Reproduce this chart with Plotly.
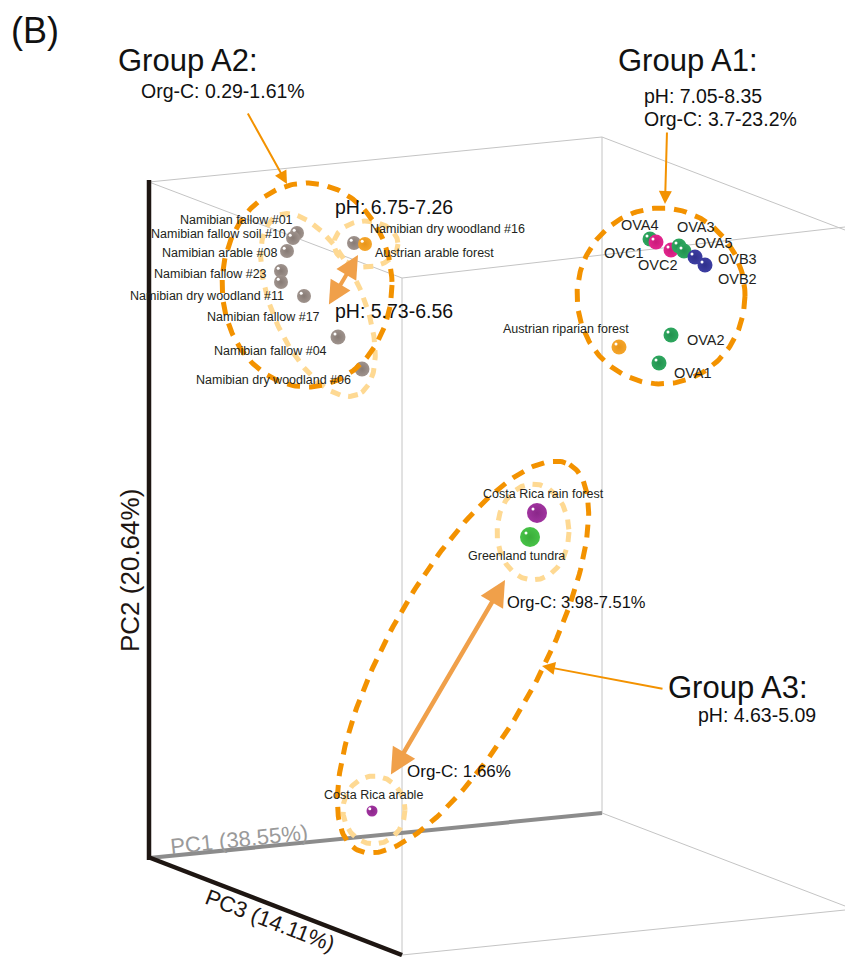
import numpy as np
import plotly.graph_objects as go

W, H = 845, 957

# ---------------- data: projected PCA scores (plot units) ----------------
sample_names = [
    "Namibian fallow #01", "Namibian fallow soil #10", "Namibian arable #08",
    "Namibian fallow #23", "Namibian dry woodland #11", "Namibian fallow #17",
    "Namibian fallow #04", "Namibian dry woodland #06", "Namibian dry woodland #16",
    "Austrian arable forest",
    "OVA4", "OVC1", "OVC2", "OVA3", "OVA5", "OVB3", "OVB2", "OVA2", "OVA1",
    "Austrian riparian forest",
    "Costa Rica rain forest", "Greenland tundra", "Costa Rica arable",
]
score_x = [297, 293, 287, 281, 281, 304, 338, 362, 354, 365,
           650, 656, 671, 679, 684, 695, 705, 671, 659, 619,
           537, 530, 372]
score_y = [233, 238, 251, 271, 282, 296, 337, 369, 243, 244,
           239, 242, 250, 246, 251, 257, 265, 335, 363, 347,
           513, 537, 811]
sample_kind = (["Namibia"] * 9 + ["Austria"] +
               ["OVA", "OVC", "OVC", "OVA", "OVA", "OVB", "OVB", "OVA", "OVA"] +
               ["Austria", "CostaRica", "Greenland", "CostaRica"])
# apparent sphere size (depth cue of the 3-D projection)
sphere_size = [14, 14, 14, 14, 14, 14, 15, 15, 14, 14,
               15, 15, 15, 15, 15, 15, 15, 15, 15, 15,
               20, 20, 11]

group_titles = ["Group A2:", "Group A1:", "Group A3:"]
group_notes = [["Org-C: 0.29-1.61%"], ["pH: 7.05-8.35", "Org-C: 3.7-23.2%"], ["pH: 4.63-5.09"]]
subgroup_notes = ["pH: 6.75-7.26", "pH: 5.73-6.56", "Org-C: 3.98-7.51%", "Org-C: 1.66%"]
axis_titles = ["PC1 (38.55%)", "PC2 (20.64%)", "PC3 (14.11%)"]

# ---------------- styles ----------------
kind_color = {"Namibia": "#9f938d", "Austria": "#f5a52a", "OVA": "#2ea75f",
              "OVC": "#e3268e", "OVB": "#3d3ea2", "CostaRica": "#a0339f",
              "Greenland": "#47c247"}
kind_edge = {"Namibia": "#877b75", "Austria": "#e8951a", "OVA": "#23914f",
             "OVC": "#c91b7a", "OVB": "#30318c", "CostaRica": "#8a2789",
             "Greenland": "#3aad3a"}
DARK = "#f39200"
LIGHT = "#fed993"
ARROW = "#f0a04a"
FONT = "Liberation Sans, Arial, sans-serif"

fig = go.Figure()


def ellipse(cx, cy, a, b, ang, color, dash, width=5):
    t = np.linspace(0, 2 * np.pi, 240)
    A = np.deg2rad(ang)
    x = cx + a * np.cos(t) * np.cos(A) - b * np.sin(t) * np.sin(A)
    y = cy + a * np.cos(t) * np.sin(A) + b * np.sin(t) * np.cos(A)
    fig.add_trace(go.Scatter(x=x, y=y, mode="lines", hoverinfo="skip",
                             line=dict(color=color, width=width, dash=dash)))


# ---- box (axes of the 3-D plot) ----
thin = dict(color="#c4c4c4", width=1)
box_edges = [
    ((149, 182), (602, 137)), ((149, 182), (402, 278)), ((402, 278), (845, 227)),
    ((602, 137), (845, 230)), ((602, 137), (602, 813)), ((402, 278), (402, 955)),
    ((602, 813), (845, 906)), ((402, 955), (845, 910)),
]
shapes = []
for (x0, y0), (x1, y1) in box_edges:
    shapes.append(dict(type="line", x0=x0, y0=y0, x1=x1, y1=y1, line=thin, layer="below"))
shapes.append(dict(type="line", x0=149, y0=858, x1=602, y1=813,
                   line=dict(color="#8c8c8c", width=4), layer="below"))
shapes.append(dict(type="line", x0=149, y0=180, x1=149, y1=860,
                   line=dict(color="#1e1612", width=4.5)))
shapes.append(dict(type="line", x0=148, y0=857, x1=402, y1=955,
                   line=dict(color="#1e1612", width=4.5)))

# ---- light (inner) ellipses ----
ellipse(318, 305, 98, 45, 66, LIGHT, "10px,8px")
ellipse(366, 244, 32, 23, 0, LIGHT, "10px,8px")
ellipse(533, 532, 36, 48, 0, LIGHT, "10px,8px")
ellipse(374, 810, 31, 34, 0, LIGHT, "10px,8px")

# ---- points (spheres) ----
cols = [kind_color[k] for k in sample_kind]
edges = [kind_edge[k] for k in sample_kind]
fig.add_trace(go.Scatter(
    x=score_x, y=score_y, mode="markers", text=sample_names, hoverinfo="text",
    marker=dict(size=sphere_size, color=cols, line=dict(width=0),
                gradient=dict(type="radial", color=edges), opacity=1)))
hx = [x - s * 0.2 for x, s in zip(score_x, sphere_size)]
hy = [y - s * 0.2 for y, s in zip(score_y, sphere_size)]
fig.add_trace(go.Scatter(x=hx, y=hy, mode="markers", hoverinfo="skip",
                         marker=dict(size=3, color="white", line=dict(width=0))))

# ---- dark (group) ellipses ----
ellipse(307, 285, 85, 102, 0, DARK, "13px,9px")
ellipse(661, 296, 84, 88, 0, DARK, "13px,9px")
ellipse(463, 657, 220, 76, -61, DARK, "13px,9px")

ann = []


def text(x, y, s, size, color="#231f20", xanchor="center", angle=0):
    ann.append(dict(x=x, y=y, text=s, showarrow=False, xanchor=xanchor, yanchor="middle",
                    textangle=angle, font=dict(family=FONT, size=size, color=color)))


# sample labels
lab = {
    "Namibian fallow #01": (295, 220, "right"), "Namibian fallow soil #10": (288, 234, "right"),
    "Namibian arable #08": (279, 253, "right"), "Namibian fallow #23": (269, 274, "right"),
    "Namibian dry woodland #11": (286, 296, "right"), "Namibian fallow #17": (322, 317, "right"),
    "Namibian fallow #04": (329, 351, "right"), "Namibian dry woodland #06": (353, 380, "right"),
    "Namibian dry woodland #16": (368, 229, "left"), "Austrian arable forest": (373, 253, "left"),
    "Austrian riparian forest": (631, 329, "right"),
    "Costa Rica rain forest": (543, 494, "center"), "Greenland tundra": (516, 556, "center"),
    "Costa Rica arable": (373, 795, "center"),
}
for n, (x, y, xa) in lab.items():
    text(x, y, n, 12.5, xanchor=xa)
ov_lab = {"OVA4": (640, 225), "OVA3": (696, 227), "OVA5": (714, 243), "OVC1": (624, 253),
          "OVC2": (658, 265), "OVB3": (737, 259), "OVB2": (737, 279), "OVA2": (706, 340),
          "OVA1": (693, 373)}
for n, (x, y) in ov_lab.items():
    text(x, y, n, 14.5)

# group annotations
text(9, 30, "(B)", 36, "#111", xanchor="left")
text(116, 60, group_titles[0], 31, "#111", xanchor="left")
text(139, 91, group_notes[0][0], 19.5, "#111", xanchor="left")
text(616, 60, group_titles[1], 31, "#111", xanchor="left")
text(642, 96, group_notes[1][0], 19.5, "#111", xanchor="left")
text(642, 119, group_notes[1][1], 19.5, "#111", xanchor="left")
text(666, 687, group_titles[2], 31, "#111", xanchor="left")
text(696, 715, group_notes[2][0], 19.5, "#111", xanchor="left")
text(333, 207, subgroup_notes[0], 19.5, "#111", xanchor="left")
text(333, 311, subgroup_notes[1], 19.5, "#111", xanchor="left")
text(505, 602, subgroup_notes[2], 16.5, "#111", xanchor="left")
text(405, 771, subgroup_notes[3], 17, "#111", xanchor="left")

# axis titles
text(130, 571, axis_titles[1], 26, "#1e1612", angle=-90)
text(239, 839, axis_titles[0], 22, "#9a9a9a", angle=-6)
text(270, 920, axis_titles[2], 22, "#1e1612", angle=21)


# arrows
def arrow(x0, y0, x1, y1, color, width, size, double=False, head=2):
    ann.append(dict(x=x1, y=y1, ax=x0, ay=y0, xref="x", yref="y", axref="x", ayref="y",
                    showarrow=True, arrowhead=head, startarrowhead=head, arrowsize=size,
                    startarrowsize=size, arrowwidth=width, arrowcolor=color,
                    arrowside="end+start" if double else "end", text="", standoff=0,
                    startstandoff=0))


arrow(247, 112, 287, 184, DARK, 2, 1.3)
arrow(667, 131, 665, 204, DARK, 2, 1.3)
arrow(664, 689, 542, 666, DARK, 2, 1.3)
arrow(328, 306, 358, 255, ARROW, 4, 1.15, double=True)
arrow(390, 776, 505, 580, ARROW, 4.5, 1.15, double=True)

fig.update_layout(
    width=W, height=H, margin=dict(l=0, r=0, t=0, b=0),
    paper_bgcolor="white", plot_bgcolor="white", showlegend=False,
    xaxis=dict(range=[0, W], visible=False, fixedrange=True),
    yaxis=dict(range=[H, 0], visible=False, fixedrange=True),
    shapes=shapes, annotations=ann,
)
fig.write_html("out.html", config={"displayModeBar": False},
               post_script="document.body.style.margin='0';document.body.style.overflow='hidden';")
